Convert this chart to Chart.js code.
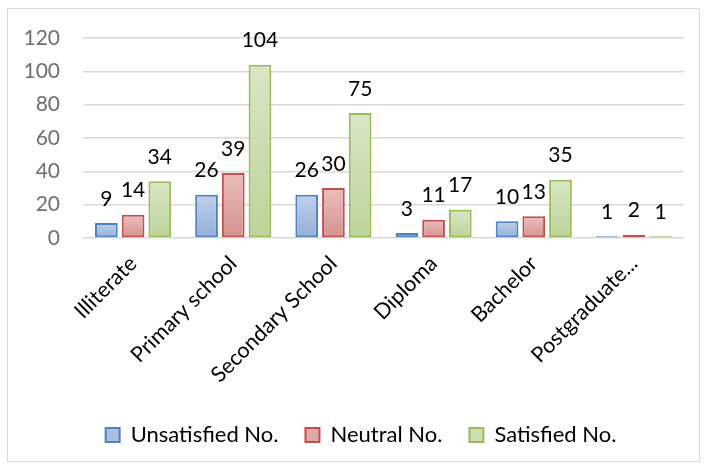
<!DOCTYPE html>
<html><head><meta charset="utf-8">
<script src="https://cdn.jsdelivr.net/npm/chart.js@4/dist/chart.umd.min.js"></script>
<style>
html,body{margin:0;padding:0;background:#fff;}
#wrap{position:relative;width:705px;height:470px;}
#frame{position:absolute;left:7px;top:8px;width:691px;height:452px;border:1.5px solid #d9d9d9;pointer-events:none;}
canvas{position:absolute;left:0;top:0;}
</style></head>
<body>
<div id="wrap"><canvas id="c" width="705" height="470"></canvas><div id="frame"></div></div>
<script>
const categories = ["Illiterate","Primary school","Secondary School","Diploma","Bachelor","Postgraduate..."];
const unsatisfied = [9,26,26,3,10,1];
const neutral = [14,39,30,11,13,2];
const satisfied = [34,104,75,17,35,1];
const yTicks = [0,20,40,60,80,100,120];

const FONT = "Lato, 'Open Sans', sans-serif";

function grad(top, bottom){
  return function(ctx){
    const chart = ctx.chart;
    if(!chart.chartArea || ctx.type !== 'data') return bottom;
    const ys = chart.scales.y;
    const yTop = ys.getPixelForValue(ctx.raw);
    const yBot = ys.getPixelForValue(0);
    if(!isFinite(yTop) || yBot - yTop < 1) return top;
    const g = chart.ctx.createLinearGradient(0, yTop, 0, yBot);
    g.addColorStop(0, top);
    g.addColorStop(1, bottom);
    return g;
  };
}

const series = [
  {label:"Unsatisfied No.", data:unsatisfied, top:"#bfd0ea", bottom:"#93aed6", border:"#4f81bd", legend:"#a9bfe0"},
  {label:"Neutral No.", data:neutral, top:"#ebbdbc", bottom:"#d59290", border:"#c0504d", legend:"#e0a9a8"},
  {label:"Satisfied No.", data:satisfied, top:"#d9e6c7", bottom:"#bcd398", border:"#9bbb59", legend:"#cddeb4"}
];

const labelPlugin = {
  id:'valueLabels',
  afterDatasetsDraw(chart){
    const ctx = chart.ctx;
    ctx.save();
    ctx.font = "21px " + FONT;
    ctx.fillStyle = "#000";
    ctx.textAlign = "center";
    ctx.textBaseline = "middle";
    chart.data.datasets.forEach((ds, i) => {
      const meta = chart.getDatasetMeta(i);
      meta.data.forEach((el, j) => {
        ctx.fillText(String(ds.data[j]), el.x, el.y - 24);
      });
    });
    ctx.restore();
  }
};

const legendShift = {
  id:'legendShift',
  afterLayout(chart){
    if(chart.legend){ chart.legend.left += 19; chart.legend.right += 19; }
  }
};

new Chart(document.getElementById('c'), {
  type:'bar',
  data:{
    labels:categories,
    datasets: series.map(s => ({
      label:s.label, data:s.data,
      backgroundColor: grad(s.top, s.bottom),
      borderColor:s.border, borderWidth:2, borderSkipped:false,
      categoryPercentage:0.8, barPercentage:0.85,
      legendColor:s.legend
    }))
  },
  options:{
    responsive:false, animation:false,
    layout:{padding:{left:0,right:21,top:38,bottom:14}},
    plugins:{
      legend:{
        position:'bottom',
        labels:{
          font:{family:FONT,size:22}, color:"#000",
          boxWidth:14, boxHeight:14, padding:27,
          generateLabels(chart){
            return chart.data.datasets.map((ds,i)=>({
              text:ds.label, fillStyle:ds.legendColor, strokeStyle:ds.borderColor,
              lineWidth:2, hidden:false, datasetIndex:i, fontColor:"#000"
            }));
          }
        }
      },
      tooltip:{enabled:false}
    },
    scales:{
      x:{
        grid:{display:false}, border:{display:false},
        ticks:{font:{family:FONT,size:21.5}, color:"#000", maxRotation:45, minRotation:45, autoSkip:false, padding:5},
        afterFit(s){ s.height = 159; }
      },
      y:{
        min:0, max:120,
        afterBuildTicks(s){ s.ticks = yTicks.map(v=>({value:v})); },
        grid:{color:"#d9d9d9", lineWidth:1.5, drawTicks:false},
        border:{display:false},
        ticks:{font:{family:FONT,size:21}, color:"#6f6f6f", padding:23},
        afterFit(s){ s.width = 83; }
      }
    }
  },
  plugins:[labelPlugin, legendShift]
});
</script>
</body></html>
